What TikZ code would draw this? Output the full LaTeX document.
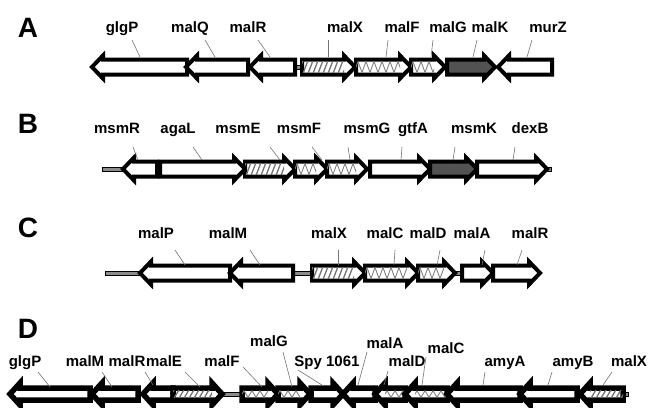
\documentclass[tikz,border=0pt]{standalone}
\usepackage{fontspec}
\setmainfont{Liberation Sans}

\tikzset{
  gene/.style={draw=black, line width=\glw pt, line join=miter},
  wht/.style={fill=white},
  hatch/.style={fill=white},
  cross/.style={fill=white},
  dark/.style={fill=black!68},
  hatchline/.style={draw=black!55, line width=1.3pt},
  zigline/.style={draw=black!50, line width=0.9pt},
  igbar/.style={draw=black, line width=0.8pt, fill=black!45},
  lbl/.style={anchor=base, inner sep=0pt, font=\fontsize{15}{15}\selectfont\bfseries},
  panel/.style={anchor=base, inner sep=0pt, font=\fontsize{28}{28}\selectfont\bfseries},
  leader/.style={draw=black!55, line width=0.6pt}
}

% interior decorations: body x-from, x-to, y
\newcommand\gfillwht[3]{}
\newcommand\gfilldark[3]{}
\newcommand\gfillhatch[3]{\begin{scope}
  \clip (#1,#3-\ih) rectangle (#2,#3+\ih);
  \foreach \k in {0,5,...,75}{\draw[hatchline] (#1+\k-4,#3+\ih+1) -- ++(5,-2*\ih-2);}
  \end{scope}}
\newcommand\gfillcross[3]{\begin{scope}
  \clip (#1,#3-\ih) rectangle (#2,#3+\ih);
  \draw[zigline] (#1-2,#3+\ih) \foreach \k in {1,...,10}{ -- ++(4,-2*\ih) -- ++(4,2*\ih)};
  \end{scope}}

% rightward gene: kind, x1, x2(tip), y
\newcommand\gR[4]{\path[gene,#1] (#2,#4-\bh) -- (#3-\hl,#4-\bh) -- (#3-\hl,#4-\hh) -- (#3,#4) -- (#3-\hl,#4+\hh) -- (#3-\hl,#4+\bh) -- (#2,#4+\bh) -- cycle;
  \csname gfill#1\endcsname{#2}{#3-\hl}{#4}}
% leftward gene: kind, x1(tip), x2, y
\newcommand\gL[4]{\path[gene,#1] (#2,#4) -- (#2+\hl,#4-\hh) -- (#2+\hl,#4-\bh) -- (#3,#4-\bh) -- (#3,#4+\bh) -- (#2+\hl,#4+\bh) -- (#2+\hl,#4+\hh) -- cycle;
  \csname gfill#1\endcsname{#2+\hl}{#3}{#4}}
% intergenic bar: x1, x2, y
\newcommand\ig[3]{\path[igbar] (#1,#3-2) rectangle (#2,#3+2);}
% label: name, x, baseline y, text, leader from (x,y) to (x,y)
\newcommand\lab[8]{\node[lbl] (#1) at (#2,#3) {#4};
  \coordinate (#1-a) at (#5,#6); \coordinate (#1-b) at (#7,#8);
  \draw[leader] (#1-a) -- (#1-b);}

\begin{document}
\begin{tikzpicture}[x=1pt,y=-1pt]
\useasboundingbox (0,0) rectangle (652,407);
\def\bh{7.5}\def\hh{11.5}\def\hl{11}\def\glw{4}\def\ih{5.5}

% ---------------- Row A ----------------
\node[panel] (pA) at (28,37) {A};
\ig{293}{304}{67}
\gL{wht}{92}{187}{67}
\gL{wht}{186}{248}{67}
\gL{wht}{250}{295}{67}
\gR{hatch}{302}{355}{67}
\gR{cross}{356}{411}{67}
\gR{cross}{411}{445}{67}
\gR{dark}{447}{495}{67}
\gL{wht}{498}{552}{67}
\lab{a1}{122}{32}{glgP}{132}{40}{140}{57}
\lab{a2}{190}{32}{malQ}{205}{40}{215}{57}
\lab{a3}{248}{32}{malR}{258}{40}{270}{57}
\lab{a4}{345}{32}{malX}{328}{40}{328}{57}
\lab{a5}{402}{32}{malF}{388}{40}{386}{57}
\lab{a6}{448}{32}{malG}{433}{40}{431}{57}
\lab{a7}{490}{32}{malK}{477}{40}{473}{57}
\lab{a8}{548}{32}{murZ}{532}{40}{527}{57}

% ---------------- Row B ----------------
\node[panel] (pB) at (28,133) {B};
\ig{102}{124}{169}
\ig{544}{551}{169}
\gL{wht}{123}{157}{169}
\gR{wht}{160}{245}{169}
\path[fill=black] (155,161) rectangle (161,177);
\gR{hatch}{245}{295}{169}
\gR{cross}{295}{327}{169}
\gR{cross}{327}{367}{169}
\gR{wht}{370}{430}{169}
\gR{dark}{430}{477}{169}
\gR{wht}{477}{547}{169}
\lab{b1}{117}{133}{msmR}{133}{147}{138}{160}
\lab{b2}{178}{133}{agaL}{193}{147}{202}{160}
\lab{b3}{238}{133}{msmE}{270}{147}{280}{160}
\lab{b4}{299}{133}{msmF}{312}{147}{322}{160}
\lab{b5}{367}{133}{msmG}{348}{147}{350}{160}
\lab{b6}{413}{133}{gtfA}{402}{147}{401}{160}
\lab{b7}{474}{133}{msmK}{455}{147}{453}{160}
\lab{b8}{530}{133}{dexB}{515}{147}{513}{160}

% ---------------- Row C ----------------
\node[panel] (pC) at (28,237) {C};
\ig{105}{141}{273}
\ig{292}{313}{273}
\ig{454}{463}{273}
\gL{wht}{140}{230}{273}
\gL{wht}{230}{293}{273}
\gR{hatch}{312}{365}{273}
\gR{cross}{365}{418}{273}
\gR{cross}{418}{455}{273}
\gR{wht}{462}{493}{273}
\gR{wht}{493}{540}{273}
\lab{c1}{156}{238}{malP}{175}{250}{185}{265}
\lab{c2}{228}{238}{malM}{250}{250}{260}{265}
\lab{c3}{329}{238}{malX}{338}{250}{338}{265}
\lab{c4}{385}{238}{malC}{395}{250}{394}{265}
\lab{c5}{428}{238}{malD}{440}{250}{437}{265}
\lab{c6}{472}{238}{malA}{485}{250}{482}{265}
\lab{c7}{530}{238}{malR}{522}{250}{517}{265}

% ---------------- Row D ----------------
\node[panel] (pD) at (28,338) {D};
\begin{scope}
\def\bh{6}\def\hh{11}\def\hl{10}\def\glw{5.5}\def\ih{3.25}
\ig{221}{243}{394}
\ig{621}{628}{394}
\gL{wht}{10}{90}{394}
\gL{wht}{92}{138}{394}
\gL{wht}{143}{173}{394}
\gR{hatch}{173}{222}{394}
\gR{cross}{242}{278}{394}
\gR{cross}{278}{310}{394}
\gR{wht}{311}{343}{394}
\gL{wht}{343}{375}{394}
\gL{cross}{375}{405}{394}
\gL{cross}{405}{447}{394}
\gL{wht}{447}{520}{394}
\gL{wht}{520}{577}{394}
\gL{hatch}{580}{623}{394}
\end{scope}
\lab{d1}{25}{366}{glgP}{38}{372}{50}{387}
\lab{d2}{85}{366}{malM}{102}{372}{112}{387}
\lab{d3}{127}{366}{malR}{145}{372}{153}{385}
\lab{d4}{164}{366}{malE}{185}{372}{200}{387}
\lab{d5}{222}{366}{malF}{243}{367}{262}{387}
\lab{d6}{269}{346}{malG}{283}{352}{292}{387}
\lab{d7}{327}{366}{Spy 1061}{298}{370}{322}{385}
\lab{d8}{385}{348}{malA}{367}{352}{358}{385}
\lab{d9}{407}{366}{malD}{388}{371}{384}{385}
\lab{d10}{446}{353}{malC}{426}{357}{422}{385}
\lab{d11}{505}{366}{amyA}{485}{372}{483}{385}
\lab{d12}{573}{366}{amyB}{552}{372}{548}{385}
\lab{d13}{629}{366}{malX}{612}{372}{603}{385}
\end{tikzpicture}
\end{document}
